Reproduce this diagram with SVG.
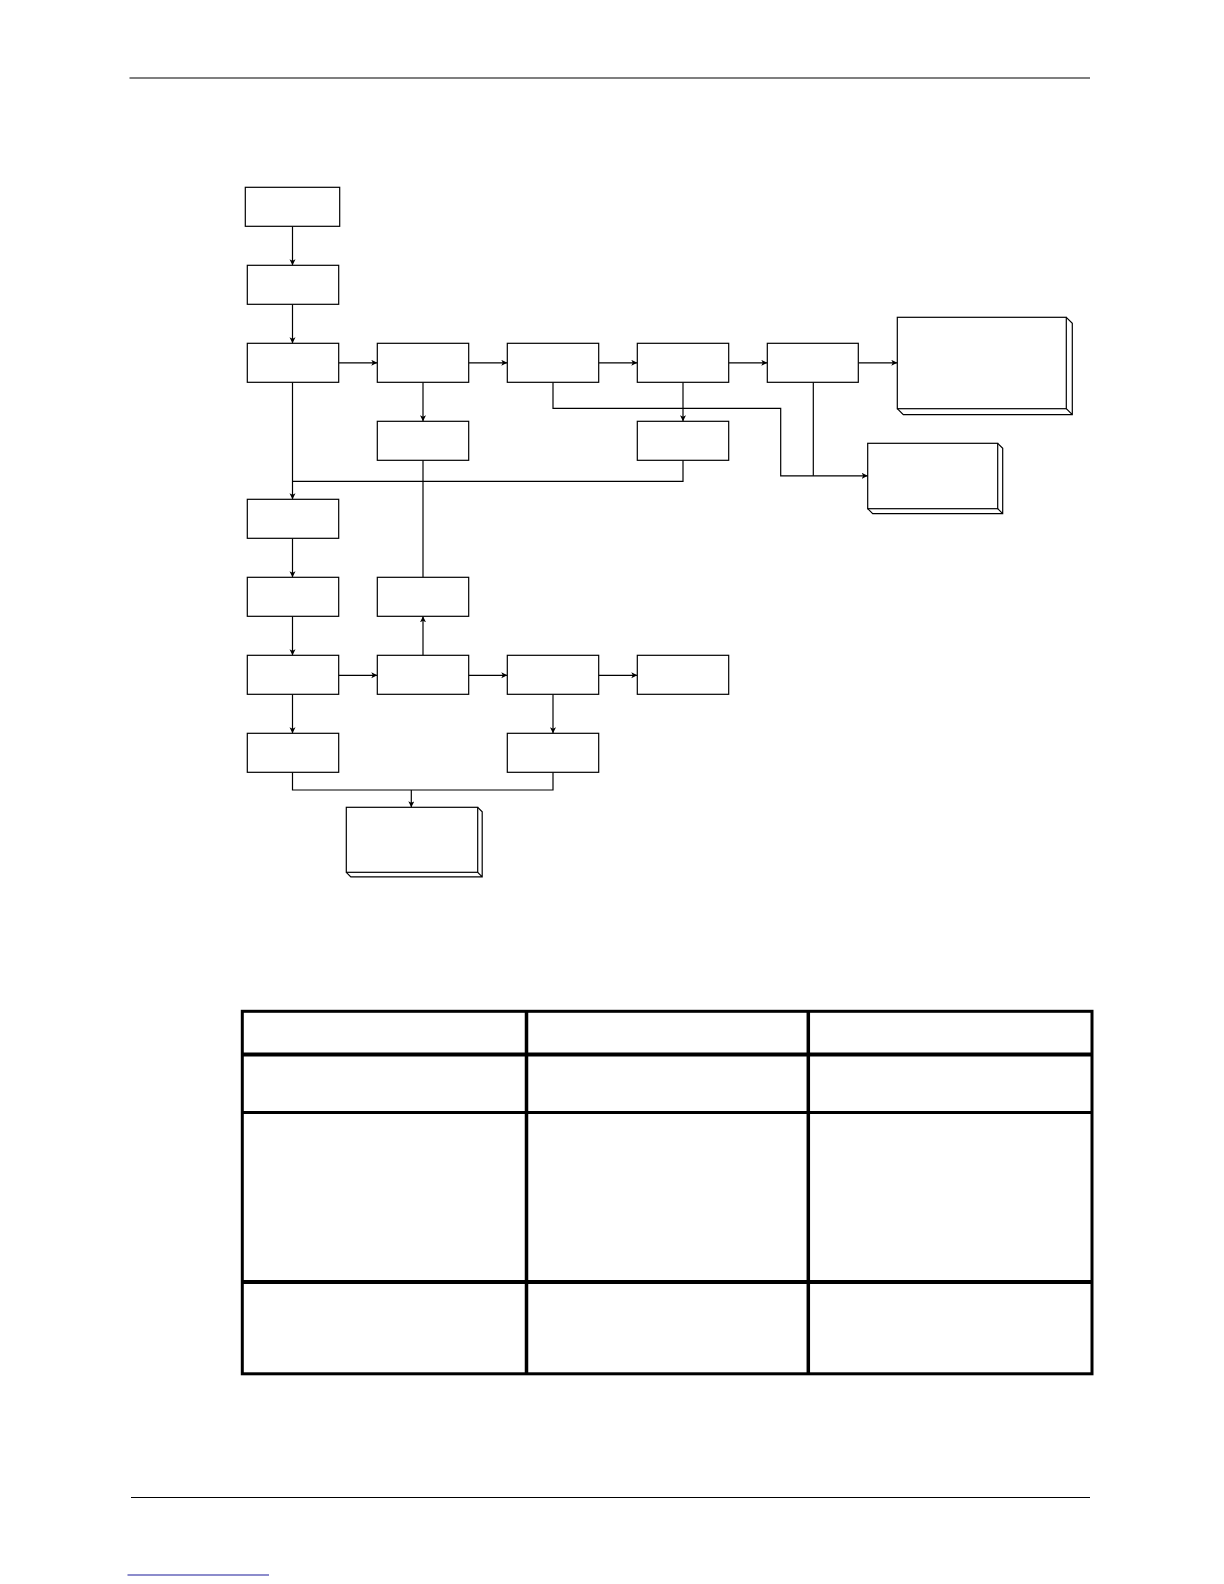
<svg xmlns="http://www.w3.org/2000/svg" width="1224" height="1584" viewBox="0 0 1224 1584">
<style>
.box{fill:#fff;stroke:#000;stroke-width:1.2}
.sh{fill:none;stroke:#000;stroke-width:1.2}
.con{fill:none;stroke:#000;stroke-width:1.2}
.rule{stroke:#000;stroke-width:1.2}
.tb{fill:none;stroke:#000;stroke-width:3}
.tbk{stroke:#000;stroke-width:4}
.tbm{stroke:#000;stroke-width:3}
.tbc{stroke:#000;stroke-width:3.5}
</style>
<defs>
<marker id="arr" markerUnits="userSpaceOnUse" markerWidth="7" markerHeight="7" refX="6" refY="3" orient="auto">
<path d="M0,0 L6,3 L0,6 L1.5,3 z" fill="#000"/>
</marker>
</defs>
<rect width="1224" height="1584" fill="#fff"/>
<g id="page-rules">
<line class="rule" x1="129.5" y1="78" x2="1090" y2="78"/>
<line class="rule" x1="131" y1="1497.5" x2="1090" y2="1497.5"/>
<line x1="127.5" y1="1575" x2="269" y2="1575" stroke="#1a1a99" stroke-width="1.2"/>
</g>
<g id="connectors">
<path class="con" marker-end="url(#arr)" d="M292.5,226.3 V265.3"/>
<path class="con" marker-end="url(#arr)" d="M292.5,304.3 V343.3"/>
<path class="con" marker-end="url(#arr)" d="M338.7,362.8 H377.3"/>
<path class="con" marker-end="url(#arr)" d="M468.7,362.8 H507.3"/>
<path class="con" marker-end="url(#arr)" d="M598.7,362.8 H637.3"/>
<path class="con" marker-end="url(#arr)" d="M728.7,362.8 H767.3"/>
<path class="con" marker-end="url(#arr)" d="M858.3,362.8 H897.3"/>
<path class="con" marker-end="url(#arr)" d="M423,382.3 V421.3"/>
<path class="con" marker-end="url(#arr)" d="M683,382.3 V421.3"/>
<path class="con" marker-end="url(#arr)" d="M553,382.3 V408.3 H780.7 V475.8 H867.7"/>
<path class="con" d="M813.3,382.3 V475.8"/>
<path class="con" marker-end="url(#arr)" d="M292.5,382.3 V499.3"/>
<path class="con" d="M683,460.3 V481.3 H292.5"/>
<path class="con" d="M423,460.3 V577.3"/>
<path class="con" marker-end="url(#arr)" d="M423,655.3 V616.3"/>
<path class="con" marker-end="url(#arr)" d="M292.5,538.3 V577.3"/>
<path class="con" marker-end="url(#arr)" d="M292.5,616.3 V655.3"/>
<path class="con" marker-end="url(#arr)" d="M338.7,675.3 H377.3"/>
<path class="con" marker-end="url(#arr)" d="M468.7,675.3 H507.3"/>
<path class="con" marker-end="url(#arr)" d="M598.7,675.3 H637.3"/>
<path class="con" marker-end="url(#arr)" d="M292.5,694.3 V733.3"/>
<path class="con" marker-end="url(#arr)" d="M553,694.3 V733.3"/>
<path class="con" d="M292.5,772.3 V790 H553 V772.3"/>
<path class="con" marker-end="url(#arr)" d="M411.3,790 V807.3"/>
</g>
<g id="n1"><rect class="box" x="245.3" y="187.3" width="94.4" height="39"/></g>
<g id="n2"><rect class="box" x="247.3" y="265.3" width="91.4" height="39"/></g>
<g id="n3"><rect class="box" x="247.3" y="343.3" width="91.4" height="39"/></g>
<g id="n4"><rect class="box" x="377.3" y="343.3" width="91.4" height="39"/></g>
<g id="n5"><rect class="box" x="507.3" y="343.3" width="91.4" height="39"/></g>
<g id="n6"><rect class="box" x="637.3" y="343.3" width="91.4" height="39"/></g>
<g id="n7"><rect class="box" x="767.3" y="343.3" width="91" height="39"/></g>
<g id="n8"><rect class="box" x="377.3" y="421.3" width="91.4" height="39"/></g>
<g id="n9"><rect class="box" x="637.3" y="421.3" width="91.4" height="39"/></g>
<g id="n10"><rect class="box" x="247.3" y="499.3" width="91.4" height="39"/></g>
<g id="n11"><rect class="box" x="247.3" y="577.3" width="91.4" height="39"/></g>
<g id="n12"><rect class="box" x="377.3" y="577.3" width="91.4" height="39"/></g>
<g id="n13"><rect class="box" x="247.3" y="655.3" width="91.4" height="39"/></g>
<g id="n14"><rect class="box" x="377.3" y="655.3" width="91.4" height="39"/></g>
<g id="n15"><rect class="box" x="507.3" y="655.3" width="91.4" height="39"/></g>
<g id="n16"><rect class="box" x="637.3" y="655.3" width="91.4" height="39"/></g>
<g id="n17"><rect class="box" x="247.3" y="733.3" width="91.4" height="39"/></g>
<g id="n18"><rect class="box" x="507.3" y="733.3" width="91.4" height="39"/></g>
<g id="out1">
<rect class="box" x="897.3" y="317.3" width="169" height="91.4"/>
<path class="sh" d="M1066.3,317.3 l6,6 V414.7 H903.3 l-6,-6 M1066.3,408.7 l6,6"/>
</g>
<g id="out2">
<rect class="box" x="867.7" y="443.3" width="130" height="65.4"/>
<path class="sh" d="M997.7,443.3 l5,5 V513.7 H872.7 l-5,-5 M997.7,508.7 l5,5"/>
</g>
<g id="out3">
<rect class="box" x="346.3" y="807.3" width="131.4" height="65"/>
<path class="sh" d="M477.7,807.3 l4.5,4.5 V876.8 H350.8 l-4.5,-4.5 M477.7,872.3 l4.5,4.5"/>
</g>
<g id="table">
<rect class="tb" x="242.3" y="1011.3" width="849.7" height="362.5"/>
<line class="tbk" x1="242.3" y1="1054.5" x2="1092" y2="1054.5"/>
<line class="tbm" x1="242.3" y1="1112.6" x2="1092" y2="1112.6"/>
<line class="tbk" x1="242.3" y1="1282" x2="1092" y2="1282"/>
<line class="tbc" x1="526.5" y1="1011.3" x2="526.5" y2="1373.8"/>
<line class="tbc" x1="808.3" y1="1011.3" x2="808.3" y2="1373.8"/>
</g>
</svg>
